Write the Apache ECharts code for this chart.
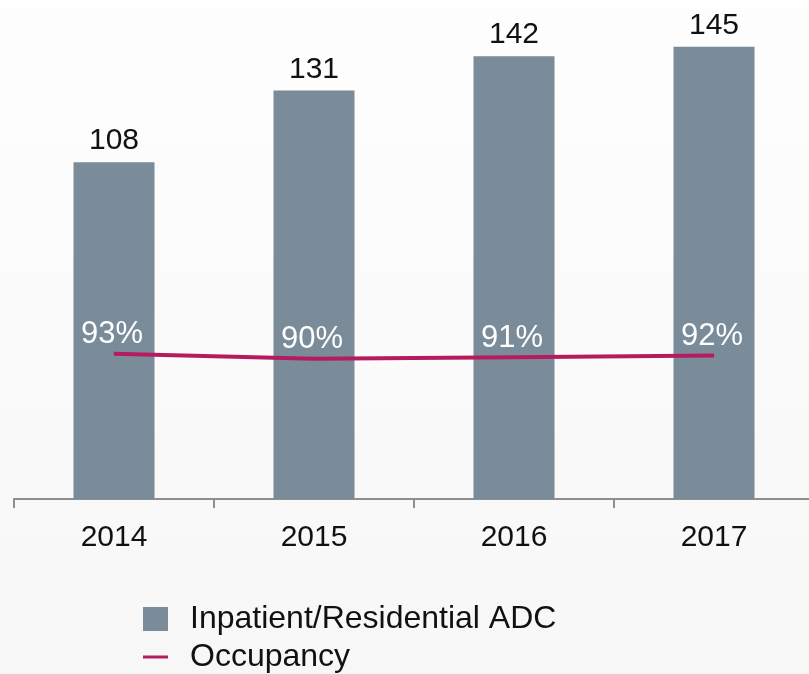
<!DOCTYPE html>
<html>
<head>
<meta charset="utf-8">
<script src="https://cdn.jsdelivr.net/npm/echarts@6/dist/echarts.min.js"></script>
<style>
  html, body { margin: 0; padding: 0; }
  #chart { width: 809px; height: 674px; }
</style>
</head>
<body>
<div id="chart"></div>
<script>
// values
const years = ["2014", "2015", "2016", "2017"];
const adc = [108, 131, 142, 145];
const occupancy = [93, 90, 91, 92];

const font = "Liberation Sans, Arial, Helvetica, sans-serif";
const myChart = echarts.init(document.getElementById("chart"));

const option = {
  backgroundColor: {
    type: "linear", x: 0, y: 0, x2: 0, y2: 1,
    colorStops: [
      { offset: 0, color: "#fefefe" },
      { offset: 1, color: "#f7f7f7" }
    ]
  },
  animation: false,
  textStyle: { fontFamily: font },
  // plot runs past the right edge, as in the original
  grid: { left: 14, width: 800, top: 0, bottom: 175, outerBoundsMode: "none" },
  legend: {
    orient: "vertical",
    left: 143,
    top: 603,
    padding: 0,
    height: 71,
    itemWidth: 25,
    itemHeight: 24,
    itemGap: 6,
    textStyle: { fontSize: 32, lineHeight: 31, color: "#111", fontFamily: font, padding: [0, 0, 0, 17] },
    data: [
      { name: "Inpatient/Residential ADC", icon: "rect" },
      { name: "Occupancy", icon: "path://M0,0 M0,10.5 L25,10.5 L25,13.5 L0,13.5 Z M25,24" }
    ]
  },
  xAxis: {
    type: "category",
    data: years,
    axisLine: { lineStyle: { color: "#8e8e8e", width: 2 } },
    axisTick: { show: true, length: 9, lineStyle: { color: "#8e8e8e", width: 2 } },
    axisLabel: { fontSize: 30, color: "#111", margin: 24, fontFamily: font }
  },
  yAxis: [
    { type: "value", min: 0, max: 160, show: false, splitLine: { show: false } },
    { type: "value", min: 6, max: 305, show: false, splitLine: { show: false } }
  ],
  series: [
    {
      name: "Inpatient/Residential ADC",
      type: "bar",
      data: adc,
      barWidth: 81,
      itemStyle: { color: "#7a8b9a" },
      label: {
        show: true,
        position: "top",
        distance: 6,
        fontSize: 30,
        color: "#111",
        fontFamily: font
      }
    },
    {
      name: "Occupancy",
      type: "line",
      yAxisIndex: 1,
      data: occupancy,
      symbol: "circle",
      symbolSize: 1,
      itemStyle: { color: "#b41c5f" },
      lineStyle: { color: "#b41c5f", width: 4 },
      label: {
        show: true,
        position: "top",
        distance: 3,
        offset: [-2, 0],
        fontSize: 31,
        color: "#ffffff",
        fontFamily: font,
        formatter: p => p.value + "%"
      },
      z: 5
    }
  ]
};
myChart.setOption(option);
</script>
</body>
</html>
